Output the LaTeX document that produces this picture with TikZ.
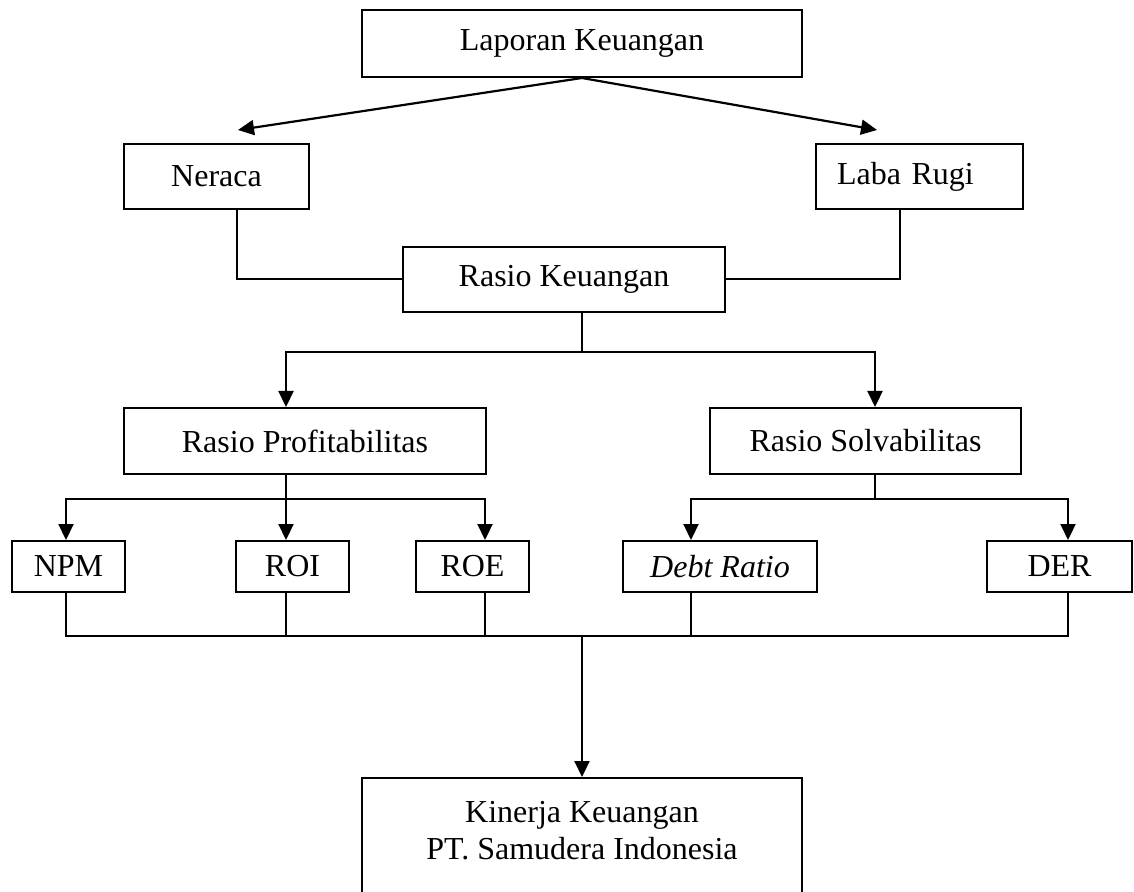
\documentclass[tikz,border=0pt]{standalone}
\usepackage{fontspec}
\setmainfont{Liberation Serif}
\usetikzlibrary{arrows.meta}
\begin{document}
\begin{tikzpicture}[x=0.5pt,y=-0.5pt,
  box/.style={draw,line width=1pt,inner sep=0pt,font=\fontsize{16}{18.5}\selectfont,align=center},
  txt/.style={inner sep=0pt,font=\fontsize{16}{18.5}\selectfont,align=center},
  conn/.style={line width=1pt},
  arr/.style={line width=1.1pt,-{Triangle[length=8pt,width=7.5pt]}}]
\useasboundingbox (0,0) rectangle (1134,892);
\fill[white] (0,0) rectangle (1134,892);

\node[box,minimum width=220pt,minimum height=33.5pt] (lap) at (582,43.5) {Laporan Keuangan};
\node[box,minimum width=92.5pt,minimum height=32.5pt] (ner) at (216.5,176.5) {Neraca};
\node[box,minimum width=103.5pt,minimum height=32.5pt,text width=82.5pt,align=left,inner xsep=10.5pt] (lab) at (919.5,176.5) {Laba Rugi};
\node[box,minimum width=161pt,minimum height=32.5pt] (rk) at (564,279.5) {Rasio Keuangan};
\node[box,minimum width=181pt,minimum height=33pt] (prof) at (305,441) {Rasio Profitabilitas};
\node[box,minimum width=155.5pt,minimum height=33pt] (solv) at (865.5,441) {Rasio Solvabilitas};
\node[box,minimum width=56.5pt,minimum height=25.5pt] (npm) at (68.5,566.5) {NPM};
\node[box,minimum width=56.5pt,minimum height=25.5pt] (roi) at (292.5,566.5) {ROI};
\node[box,minimum width=56.5pt,minimum height=25.5pt] (roe) at (472.5,566.5) {ROE};
\node[box,minimum width=97pt,minimum height=25.5pt] (debt) at (720,566.5) {\itshape Debt Ratio};
\node[box,minimum width=72.5pt,minimum height=25.5pt] (der) at (1059.5,566.5) {DER};
\node[box,minimum width=220pt,minimum height=66pt] (kin) at (582,844) {};
\node[txt] (kintxt) at (582,831) {Kinerja Keuangan\\PT. Samudera Indonesia};

\coordinate (nerTip) at (238,130);
\coordinate (labTip) at (877,130);
\draw[arr] (lap.south) -- (nerTip);
\draw[arr] (lap.south) -- (labTip);

\draw[conn] ([xshift=10.25pt]ner.south) |- (rk.west);
\draw[conn] ([xshift=-9.75pt]lab.south) |- (rk.east);

\coordinate (rkj) at (582,352);
\draw[conn] (rkj |- rk.south) -- (rkj);
\draw[arr] (rkj) -| ([xshift=-9.5pt]prof.north);
\draw[arr] (rkj) -| ([xshift=4.75pt]solv.north);

\coordinate (pj) at (286,499);
\draw[conn] (pj |- prof.south) -- (pj);
\draw[arr] (pj) -| ([xshift=-1.25pt]npm.north);
\draw[arr] (pj) -- ([xshift=-3.25pt]roi.north);
\draw[arr] (pj) -| ([xshift=6.25pt]roe.north);

\coordinate (sj) at (875,499);
\draw[conn] (sj |- solv.south) -- (sj);
\draw[arr] (sj) -| ([xshift=-14.5pt]debt.north);
\draw[arr] (sj) -| ([xshift=4.25pt]der.north);

\coordinate (bj) at (582,636);
\draw[conn] ([xshift=-1.25pt]npm.south) |- (bj);
\draw[conn] ([xshift=4.25pt]der.south) |- (bj);
\draw[conn] ([xshift=-3.25pt]roi.south) -- ([xshift=-3.25pt]roi.south |- bj);
\draw[conn] ([xshift=6.25pt]roe.south) -- ([xshift=6.25pt]roe.south |- bj);
\draw[conn] ([xshift=-14.5pt]debt.south) -- ([xshift=-14.5pt]debt.south |- bj);
\draw[arr] (bj) -- (kin.north);
\end{tikzpicture}
\end{document}
